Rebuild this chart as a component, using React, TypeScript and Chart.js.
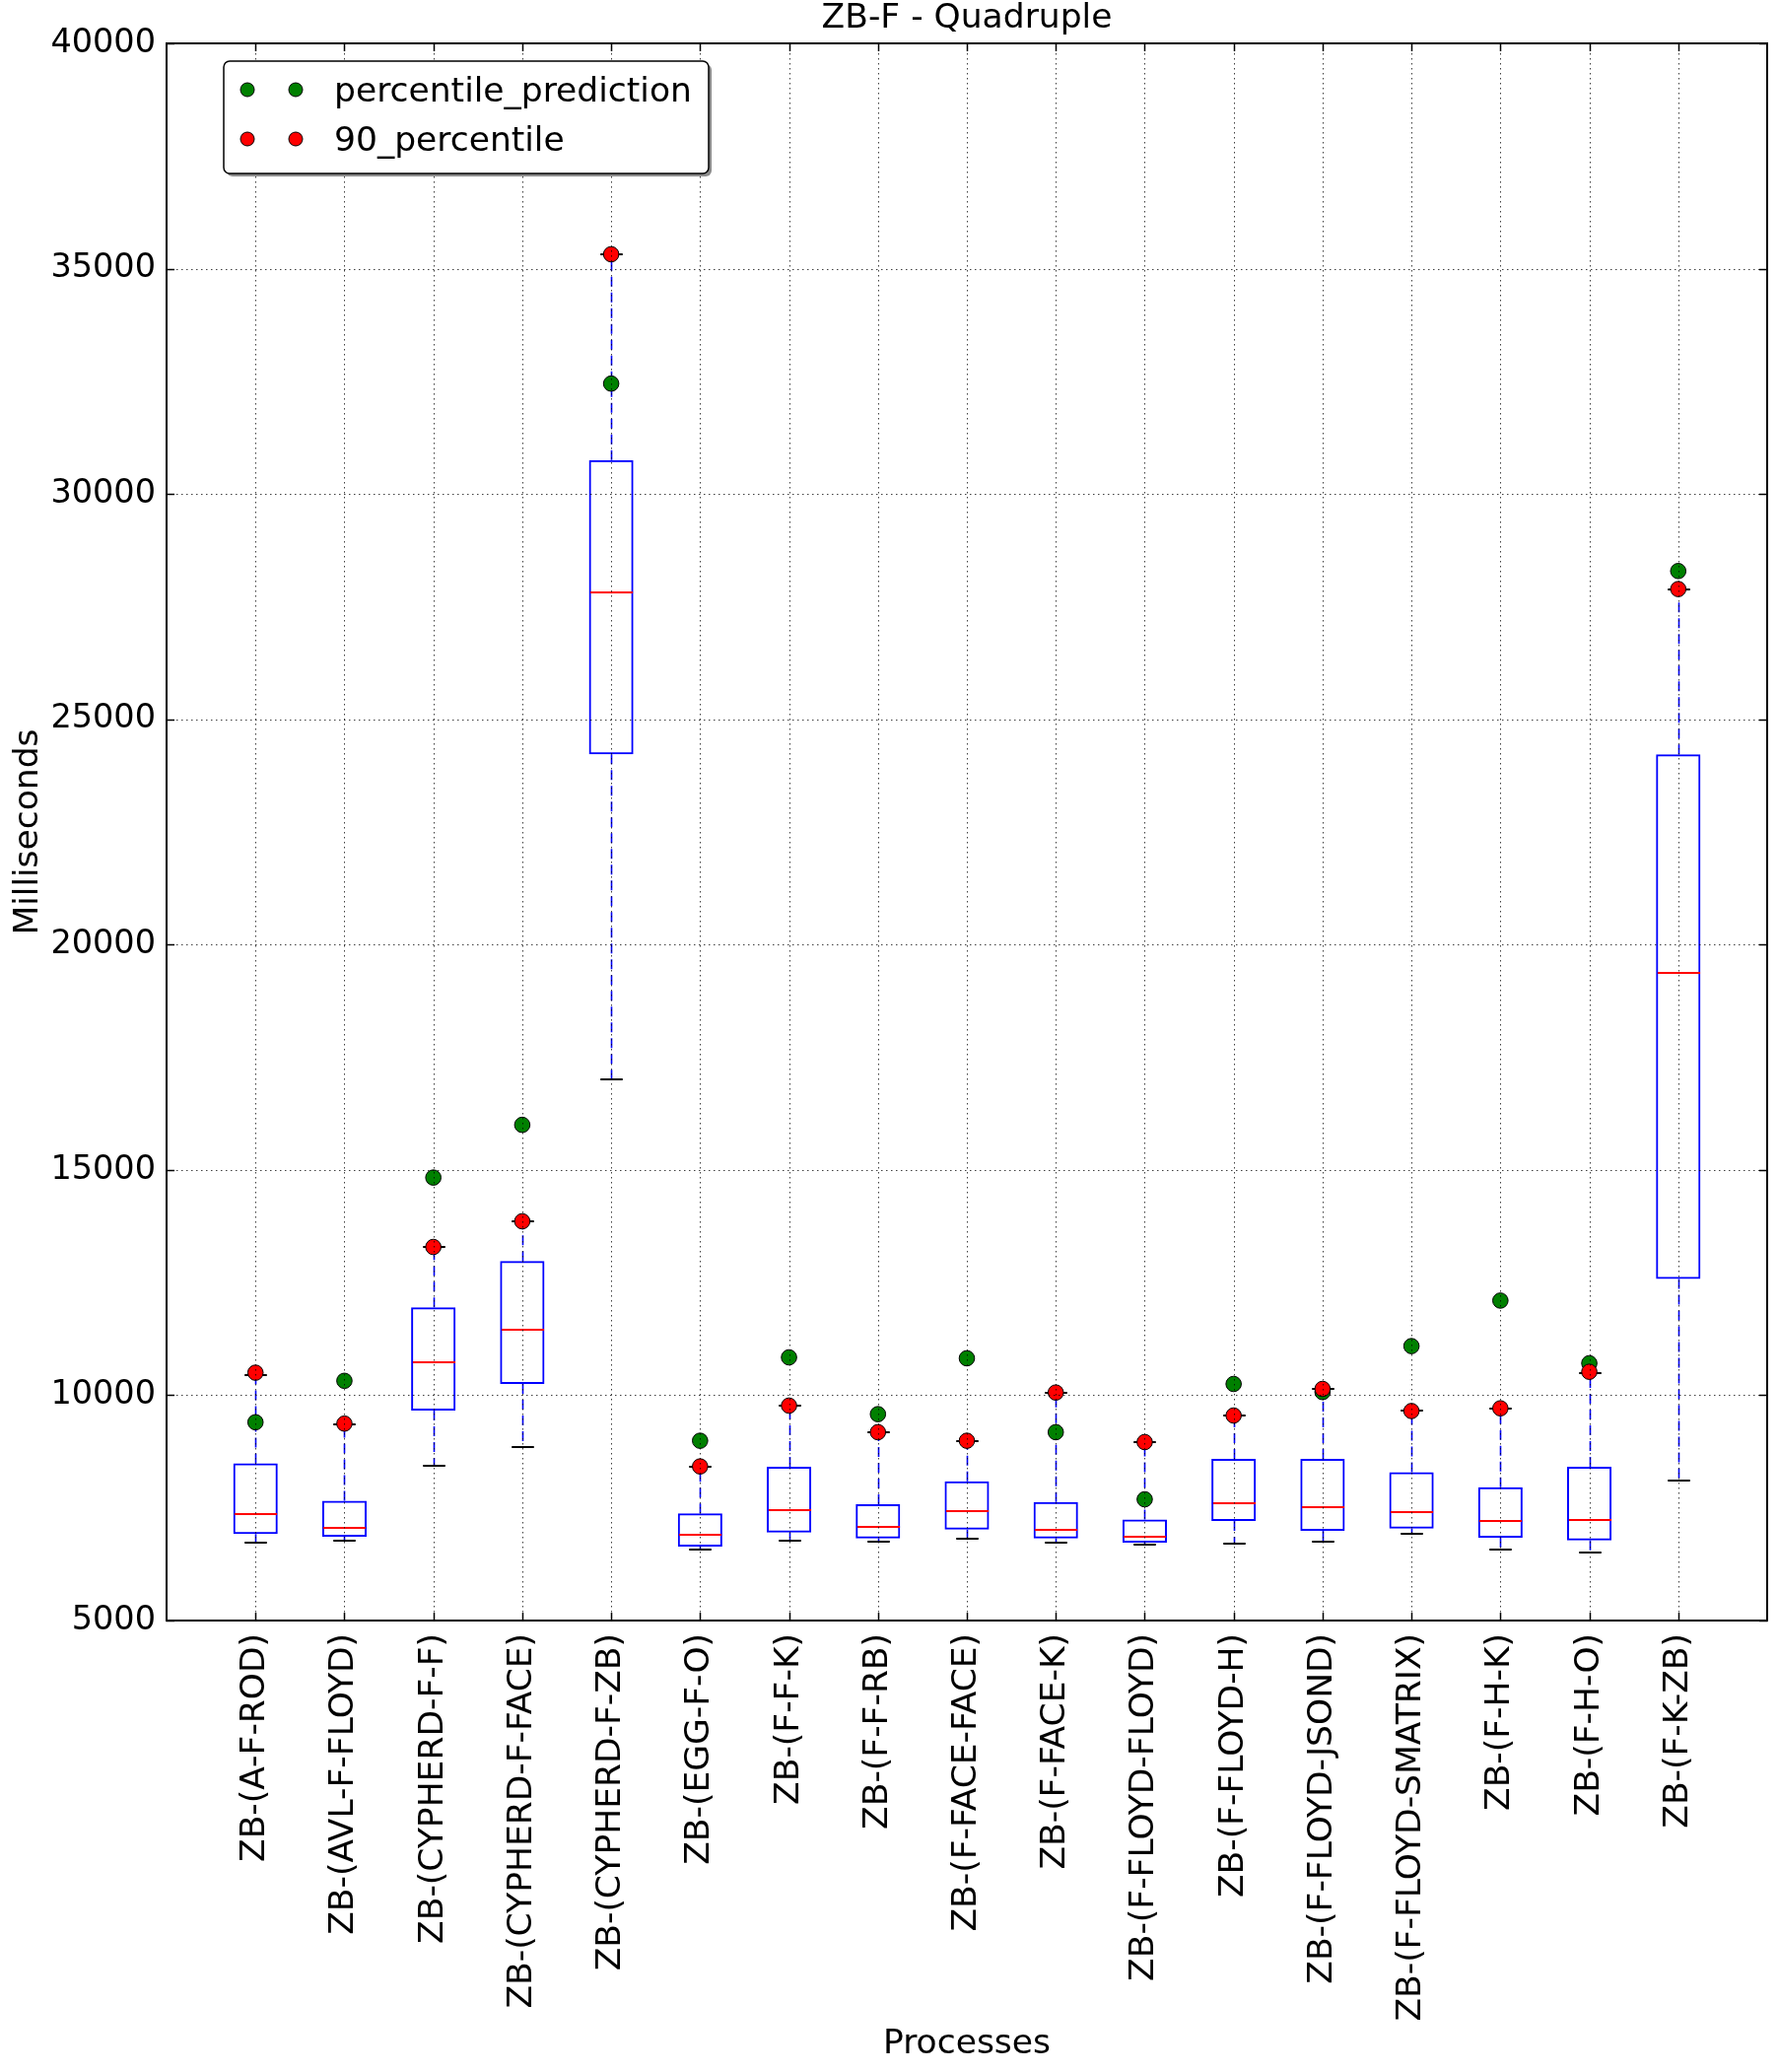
import React, { useEffect, useRef } from "react";
import { Chart, registerables } from "chart.js";

Chart.register(...registerables);

const TITLE = "ZB-F - Quadruple";
const X_TITLE = "Processes";
const Y_TITLE = "Milliseconds";

const CATEGORIES = [
  "ZB-(A-F-ROD)",
  "ZB-(AVL-F-FLOYD)",
  "ZB-(CYPHERD-F-F)",
  "ZB-(CYPHERD-F-FACE)",
  "ZB-(CYPHERD-F-ZB)",
  "ZB-(EGG-F-O)",
  "ZB-(F-F-K)",
  "ZB-(F-F-RB)",
  "ZB-(F-FACE-FACE)",
  "ZB-(F-FACE-K)",
  "ZB-(F-FLOYD-FLOYD)",
  "ZB-(F-FLOYD-H)",
  "ZB-(F-FLOYD-JSOND)",
  "ZB-(F-FLOYD-SMATRIX)",
  "ZB-(F-H-K)",
  "ZB-(F-H-O)",
  "ZB-(F-K-ZB)",
];

const WHISKER_LOW = [6730, 6780, 8440, 8840, 17000, 6580, 6780, 6750, 6820, 6730, 6690, 6700, 6750, 6930, 6580, 6510, 8100];
const Q1 = [6920, 6860, 9660, 10250, 24220, 6640, 6950, 6820, 7020, 6820, 6730, 7210, 6990, 7040, 6840, 6780, 12580];
const MEDIAN = [7370, 7060, 10730, 11450, 27810, 6910, 7460, 7070, 7430, 7020, 6850, 7610, 7520, 7410, 7210, 7240, 19380];
const Q3 = [8490, 7660, 11950, 12980, 30750, 7380, 8410, 7580, 8090, 7630, 7240, 8590, 8590, 8290, 7960, 8410, 24220];
const WHISKER_HIGH = [10440, 9360, 13290, 13860, 35320, 8420, 9770, 9180, 8990, 10060, 8960, 9550, 10130, 9650, 9710, 10500, 27880];

const PERCENTILE_PREDICTION = [9400, 10320, 14830, 16000, 32450, 8990, 10840, 9580, 10820, 9180, 7690, 10250, 10070, 11090, 12100, 10710, 28290];
const PERCENTILE_90 = [10500, 9370, 13290, 13860, 35320, 8420, 9770, 9180, 8990, 10060, 8960, 9550, 10140, 9650, 9710, 10520, 27890];

const Y_TICKS = [5000, 10000, 15000, 20000, 25000, 30000, 35000, 40000];
const Y_MIN = 5000;
const Y_MAX = 40000;
const X_MIN = 0;
const X_MAX = CATEGORIES.length + 1;

const FONT = "'DejaVu Sans', sans-serif";
const FONT_SIZE = 34.5;
const TICK_FONT_SIZE = 33.5;

const boxPlugin = {
  id: "boxDetails",
  afterDatasetDraw(chart: any, args: any) {
    if (args.index !== 2) return;
    const { ctx } = chart;
    const xs = chart.scales.x;
    const ys = chart.scales.y;
    const capHalf = xs.getPixelForValue(1.125) - xs.getPixelForValue(1);
    const boxHalf = xs.getPixelForValue(1.25) - xs.getPixelForValue(1);
    ctx.save();
    CATEGORIES.forEach((_, i) => {
      const x = Math.round(xs.getPixelForValue(i + 1)) + 0.5;
      // whiskers
      ctx.strokeStyle = "#0000ff";
      ctx.lineWidth = 1.6;
      ctx.setLineDash([10, 6]);
      ctx.beginPath();
      ctx.moveTo(x, ys.getPixelForValue(Q3[i]));
      ctx.lineTo(x, ys.getPixelForValue(WHISKER_HIGH[i]));
      ctx.moveTo(x, ys.getPixelForValue(Q1[i]));
      ctx.lineTo(x, ys.getPixelForValue(WHISKER_LOW[i]));
      ctx.stroke();
      ctx.setLineDash([]);
      // caps
      ctx.strokeStyle = "#000000";
      ctx.lineWidth = 2;
      ctx.beginPath();
      const yh = Math.round(ys.getPixelForValue(WHISKER_HIGH[i]));
      const yl = Math.round(ys.getPixelForValue(WHISKER_LOW[i]));
      ctx.moveTo(x - capHalf, yh);
      ctx.lineTo(x + capHalf, yh);
      ctx.moveTo(x - capHalf, yl);
      ctx.lineTo(x + capHalf, yl);
      ctx.stroke();
      // median
      ctx.strokeStyle = "#ff0000";
      ctx.lineWidth = 1.8;
      const ym = Math.round(ys.getPixelForValue(MEDIAN[i]));
      ctx.beginPath();
      ctx.moveTo(x - boxHalf + 1, ym);
      ctx.lineTo(x + boxHalf - 1, ym);
      ctx.stroke();
    });
    ctx.restore();
  },
};

const overlayPlugin = {
  id: "mplOverlay",
  afterDatasetsDraw(chart: any) {
    const { ctx, chartArea } = chart;
    const xs = chart.scales.x;
    const ys = chart.scales.y;
    const { left, right, top, bottom } = chartArea;
    ctx.save();
    // dotted grid drawn over the data (classic matplotlib)
    ctx.strokeStyle = "rgba(0,0,0,0.75)";
    ctx.lineWidth = 1;
    ctx.setLineDash([1.5, 3.5]);
    ctx.beginPath();
    xs.ticks.forEach((t: any) => {
      const x = Math.round(xs.getPixelForValue(t.value)) + 0.5;
      ctx.moveTo(x, top);
      ctx.lineTo(x, bottom);
    });
    ys.ticks.forEach((t: any) => {
      if (t.value === Y_MIN || t.value === Y_MAX) return;
      const y = Math.round(ys.getPixelForValue(t.value)) + 0.5;
      ctx.moveTo(left, y);
      ctx.lineTo(right, y);
    });
    ctx.stroke();
    ctx.setLineDash([]);
    // inward ticks
    ctx.strokeStyle = "#000";
    ctx.lineWidth = 1.5;
    ctx.beginPath();
    const tl = 8;
    xs.ticks.forEach((t: any) => {
      const x = Math.round(xs.getPixelForValue(t.value)) + 0.5;
      ctx.moveTo(x, bottom);
      ctx.lineTo(x, bottom - tl);
      ctx.moveTo(x, top);
      ctx.lineTo(x, top + tl);
    });
    ys.ticks.forEach((t: any) => {
      const y = Math.round(ys.getPixelForValue(t.value)) + 0.5;
      ctx.moveTo(left, y);
      ctx.lineTo(left + tl, y);
      ctx.moveTo(right, y);
      ctx.lineTo(right - tl, y);
    });
    ctx.stroke();
    // frame
    ctx.lineWidth = 2;
    ctx.strokeRect(left, top, right - left, bottom - top);
    ctx.restore();
  },
  afterDraw(chart: any) {
    const { ctx, chartArea } = chart;
    ctx.save();
    // title
    ctx.fillStyle = "#000";
    ctx.font = `${FONT_SIZE}px ${FONT}`;
    ctx.textAlign = "center";
    ctx.textBaseline = "alphabetic";
    ctx.fillText(TITLE, (chartArea.left + chartArea.right) / 2, chartArea.top - 16);

    // legend
    const x0 = chartArea.left + 58;
    const y0 = chartArea.top + 18;
    const w = 492;
    const h = 114;
    const rr = (x: number, y: number) => {
      ctx.beginPath();
      if ((ctx as any).roundRect) {
        (ctx as any).roundRect(x, y, w, h, 6);
      } else {
        ctx.rect(x, y, w, h);
      }
    };
    ctx.fillStyle = "rgba(0,0,0,0.45)";
    rr(x0 + 3, y0 + 3);
    ctx.fill();
    ctx.fillStyle = "#fff";
    rr(x0, y0);
    ctx.fill();
    ctx.strokeStyle = "#000";
    ctx.lineWidth = 1.5;
    ctx.stroke();

    const entries = [chart.data.datasets[0], chart.data.datasets[1]];
    entries.forEach((ds: any, k: number) => {
      const cy = y0 + 29 + k * 50;
      [x0 + 24, x0 + 73].forEach((mx) => {
        ctx.beginPath();
        ctx.arc(mx, cy, 7, 0, Math.PI * 2);
        ctx.fillStyle = ds.pointBackgroundColor;
        ctx.fill();
        ctx.lineWidth = 1;
        ctx.strokeStyle = "#000";
        ctx.stroke();
      });
      ctx.fillStyle = "#000";
      ctx.textAlign = "left";
      ctx.textBaseline = "alphabetic";
      ctx.font = `${FONT_SIZE}px ${FONT}`;
      ctx.fillText(ds.label, x0 + 112, cy + 11.5);
    });
    ctx.restore();
  },
};

export default function App() {
  const ref = useRef<HTMLCanvasElement | null>(null);

  useEffect(() => {
    document.body.style.margin = "0";
    if (!ref.current) return;
    Chart.defaults.font.family = FONT;
    Chart.defaults.color = "#000";

    const chart = new Chart(ref.current, {
      type: "bar",
      data: {
        datasets: [
          {
            type: "scatter",
            label: "percentile_prediction",
            data: CATEGORIES.map((_, i) => ({ x: i + 1, y: PERCENTILE_PREDICTION[i] })),
            pointRadius: 7.8,
            pointBackgroundColor: "#008000",
            pointBorderColor: "#000",
            pointBorderWidth: 1,
            order: 2,
          } as any,
          {
            type: "scatter",
            label: "90_percentile",
            data: CATEGORIES.map((_, i) => ({ x: i + 1, y: PERCENTILE_90[i] })),
            pointRadius: 7.8,
            pointBackgroundColor: "#ff0000",
            pointBorderColor: "#000",
            pointBorderWidth: 1,
            order: 1,
          } as any,
          {
            type: "bar",
            label: "box",
            data: CATEGORIES.map((_, i) => ({ x: i + 1, y: [Q1[i], Q3[i]] })),
            backgroundColor: "rgba(0,0,0,0)",
            borderColor: "#0000ff",
            borderWidth: 2,
            borderSkipped: false,
            categoryPercentage: 1,
            barPercentage: 0.5,
            grouped: false,
            order: 3,
          } as any,
        ],
      },
      options: {
        animation: false,
        responsive: false,
        events: [],
        layout: { padding: { top: 44, right: 11, left: 0, bottom: 0 } },
        plugins: {
          legend: { display: false },
          tooltip: { enabled: false },
          title: { display: false },
        },
        scales: {
          x: {
            type: "linear",
            position: "bottom",
            offset: false,
            min: X_MIN,
            max: X_MAX,
            grid: { display: false, drawTicks: false, offset: false },
            border: { display: false },
            afterBuildTicks: (scale: any) => {
              scale.ticks = CATEGORIES.map((_, i) => ({ value: i + 1 }));
            },
            afterFit: (scale: any) => {
              scale.height = 458;
            },
            ticks: {
              autoSkip: false,
              minRotation: 90,
              maxRotation: 90,
              padding: 13,
              color: "#000",
              font: { size: FONT_SIZE, family: FONT },
              callback: (value: any) => CATEGORIES[Number(value) - 1] ?? "",
            },
            title: {
              display: true,
              text: X_TITLE,
              color: "#000",
              font: { size: FONT_SIZE, family: FONT },
              padding: { top: 0, bottom: 7 },
            },
          },
          y: {
            type: "linear",
            min: Y_MIN,
            max: Y_MAX,
            grid: { display: false, drawTicks: false },
            border: { display: false },
            afterBuildTicks: (scale: any) => {
              scale.ticks = Y_TICKS.map((v) => ({ value: v }));
            },
            afterFit: (scale: any) => {
              scale.width = 169;
            },
            ticks: {
              padding: 11,
              color: "#000",
              font: { size: TICK_FONT_SIZE, family: FONT },
              callback: (value: any) => String(value),
            },
            title: {
              display: true,
              text: Y_TITLE,
              color: "#000",
              font: { size: FONT_SIZE, family: FONT },
              padding: { top: 8, bottom: 0 },
            },
          },
        },
      } as any,
      plugins: [boxPlugin, overlayPlugin],
    });
    return () => chart.destroy();
  }, []);

  return (
    <div style={{ width: 1804, height: 2102, background: "#fff" }}>
      <canvas ref={ref} width={1804} height={2102} style={{ display: "block", width: 1804, height: 2102 }} />
    </div>
  );
}
